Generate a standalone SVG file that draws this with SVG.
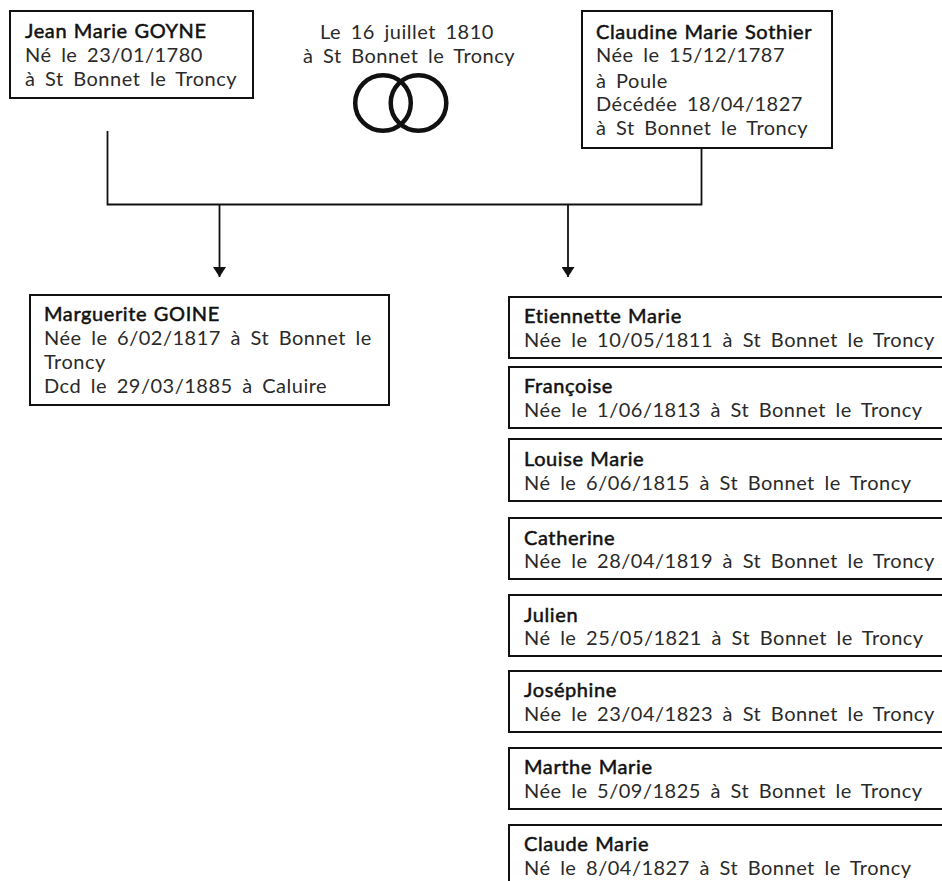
<svg xmlns="http://www.w3.org/2000/svg" width="942" height="881" viewBox="0 0 942 881">
<style>
text{font-family:"Lato","Liberation Sans",sans-serif;font-size:20px;font-weight:400;fill:#2a2a2a;word-spacing:4px;letter-spacing:.5px}
.b{fill:#111;stroke:#111;stroke-width:.5px;word-spacing:1px;letter-spacing:.6px}
.box{fill:#fff;stroke:#111;stroke-width:2}
.ln{fill:none;stroke:#111;stroke-width:1.800}
.ring{fill:none;stroke:#111;stroke-width:4.500}
</style>
<defs><marker id="a" markerUnits="userSpaceOnUse" markerWidth="11" markerHeight="13" refX="10" refY="6.500" orient="auto"><path d="M0 0L10 6.500L0 13z" fill="#111"/></marker></defs>
<g id="connectors">
<path class="ln" d="M107.500 131V204.500H701.500V148"/>
<path class="ln" d="M219.500 205V277" marker-end="url(#a)"/>
<path class="ln" d="M568 205V277" marker-end="url(#a)"/>
</g>
<g id="n-jean"><rect class="box" x="10" y="11" width="243" height="87"/>
<text class="b" x="25" y="38">Jean Marie GOYNE</text><text x="25" y="62">Né le 23/01/1780</text><text x="25" y="86">à St Bonnet le Troncy</text></g>
<g id="n-mariage"><text x="320" y="39">Le 16 juillet 1810</text><text x="303" y="63">à St Bonnet le Troncy</text>
<circle class="ring" cx="383" cy="103" r="27.800"/><circle class="ring" cx="418.500" cy="103" r="27.800"/></g>
<g id="n-claudine"><rect class="box" x="582" y="11" width="250" height="137"/>
<text class="b" x="596" y="39">Claudine Marie Sothier</text><text x="596" y="62">Née le 15/12/1787</text><text x="596" y="88">à Poule</text><text x="596" y="111">Décédée 18/04/1827</text><text x="596" y="135">à St Bonnet le Troncy</text></g>
<g id="n-marguerite"><rect class="box" x="30" y="295" width="359" height="110"/>
<text class="b" x="44" y="321">Marguerite GOINE</text><text x="44" y="345">Née le 6/02/1817 à St Bonnet le</text><text x="44" y="369">Troncy</text><text x="44" y="393">Dcd le 29/03/1885 à Caluire</text></g>
<g id="n-etiennette"><path class="box" d="M943 297H509V358H943"/><text class="b" x="524" y="323">Etiennette Marie</text><text x="524" y="347">Née le 10/05/1811 à St Bonnet le Troncy</text></g>
<g id="n-francoise"><path class="box" d="M943 367H509V428H943"/><text class="b" x="524" y="393">Françoise</text><text x="524" y="417">Née le 1/06/1813 à St Bonnet le Troncy</text></g>
<g id="n-louise"><path class="box" d="M943 439H509V501H943"/><text class="b" x="524" y="466">Louise Marie</text><text x="524" y="490">Né le 6/06/1815 à St Bonnet le Troncy</text></g>
<g id="n-catherine"><path class="box" d="M943 518H509V579H943"/><text class="b" x="524" y="545">Catherine</text><text x="524" y="568">Née le 28/04/1819 à St Bonnet le Troncy</text></g>
<g id="n-julien"><path class="box" d="M943 595H509V656H943"/><text class="b" x="524" y="622">Julien</text><text x="524" y="645">Né le 25/05/1821 à St Bonnet le Troncy</text></g>
<g id="n-josephine"><path class="box" d="M943 671H509V732H943"/><text class="b" x="524" y="697">Joséphine</text><text x="524" y="721">Née le 23/04/1823 à St Bonnet le Troncy</text></g>
<g id="n-marthe"><path class="box" d="M943 748H509V809H943"/><text class="b" x="524" y="774">Marthe Marie</text><text x="524" y="798">Née le 5/09/1825 à St Bonnet le Troncy</text></g>
<g id="n-claude"><path class="box" d="M943 825H509V881"/><text class="b" x="524" y="851">Claude Marie</text><text x="524" y="875">Né le 8/04/1827 à St Bonnet le Troncy</text></g>
</svg>
